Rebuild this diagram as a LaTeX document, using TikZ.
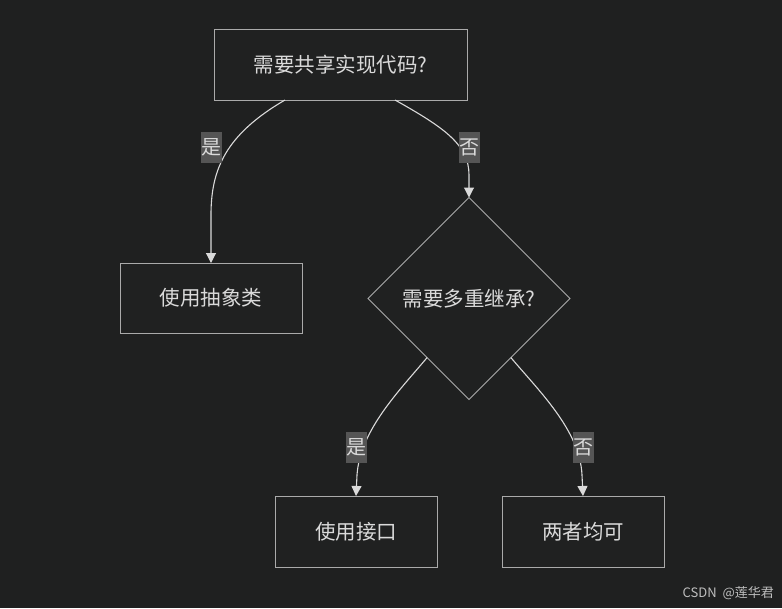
\documentclass[tikz,border=0pt]{standalone}
\usepackage{fontspec}
\newfontfamily\cjk{Noto Sans CJK SC}
\usetikzlibrary{shapes.geometric,arrows.meta,calc}
\definecolor{bgc}{RGB}{31,32,32}
\definecolor{boxfill}{RGB}{32,33,33}
\definecolor{boxline}{RGB}{170,170,170}
\definecolor{txt}{RGB}{218,218,218}
\definecolor{lblfill}{RGB}{85,85,85}
\definecolor{wm}{RGB}{190,190,190}
\tikzset{
  flowbox/.style={draw=boxline, fill=boxfill, line width=1pt, text=txt, font=\cjk\fontsize{20.5}{24}\selectfont, inner sep=0pt, outer sep=0pt},
  decide/.style={flowbox, shape=diamond, aspect=1, minimum width=202pt, minimum height=202pt},
  edgelbl/.style={fill=lblfill, text=txt, font=\cjk\fontsize{20}{24}\selectfont, inner sep=0pt, minimum width=21pt, minimum height=31pt},
  flow/.style={draw=txt, line width=1.1pt, -{Triangle[length=10pt,width=10pt]}}
}
\begin{document}
\begin{tikzpicture}[x=1pt,y=-1pt]
\fill[bgc] (0,0) rectangle (782,608);
\useasboundingbox (0,0) rectangle (782,608);
\node[flowbox, minimum width=253pt, minimum height=71pt] (t) at (340.5,64.5) {需要共享实现代码?};
\node[flowbox, minimum width=182pt, minimum height=70pt] (a) at (211,298) {使用抽象类};
\node[decide] (d) at (469,298.5) {需要多重继承?};
\node[flowbox, minimum width=162pt, minimum height=71pt] (i) at (356,531.5) {使用接口};
\node[flowbox, minimum width=162pt, minimum height=71pt] (b) at (583,531.5) {两者均可};

\coordinate (ts1) at ([xshift=-55.5pt]t.south);
\coordinate (ts2) at ([xshift=54.5pt]t.south);
\coordinate (ds1) at ($(d.south west)!0.17!(d.south)$);
\coordinate (ds2) at ($(d.south east)!0.17!(d.south)$);

\draw[flow] (ts1) .. controls (225,135) and (211,170) .. (211,215) -- (a.north);
\draw[flow] (ts2) .. controls (445,128) and (469,145) .. (469,175) -- (d.north);
\draw[flow] (ds1) .. controls (400,390) and (360,430) .. (357,475) -- (i.north);
\draw[flow] (ds2) .. controls (538,390) and (580,430) .. (582,475) -- (b.north);

\node[edgelbl] (l1) at (211,147.5) {是};
\node[edgelbl] (l2) at (469.5,147.5) {否};
\node[edgelbl] (l3) at (356,447.5) {是};
\node[edgelbl] (l4) at (583,447.5) {否};

\node[text=wm, font=\cjk\fontsize{13}{15}\selectfont, anchor=east, inner sep=0pt] (w) at (774,593) {CSDN\ \ @莲华君};
\end{tikzpicture}
\end{document}
